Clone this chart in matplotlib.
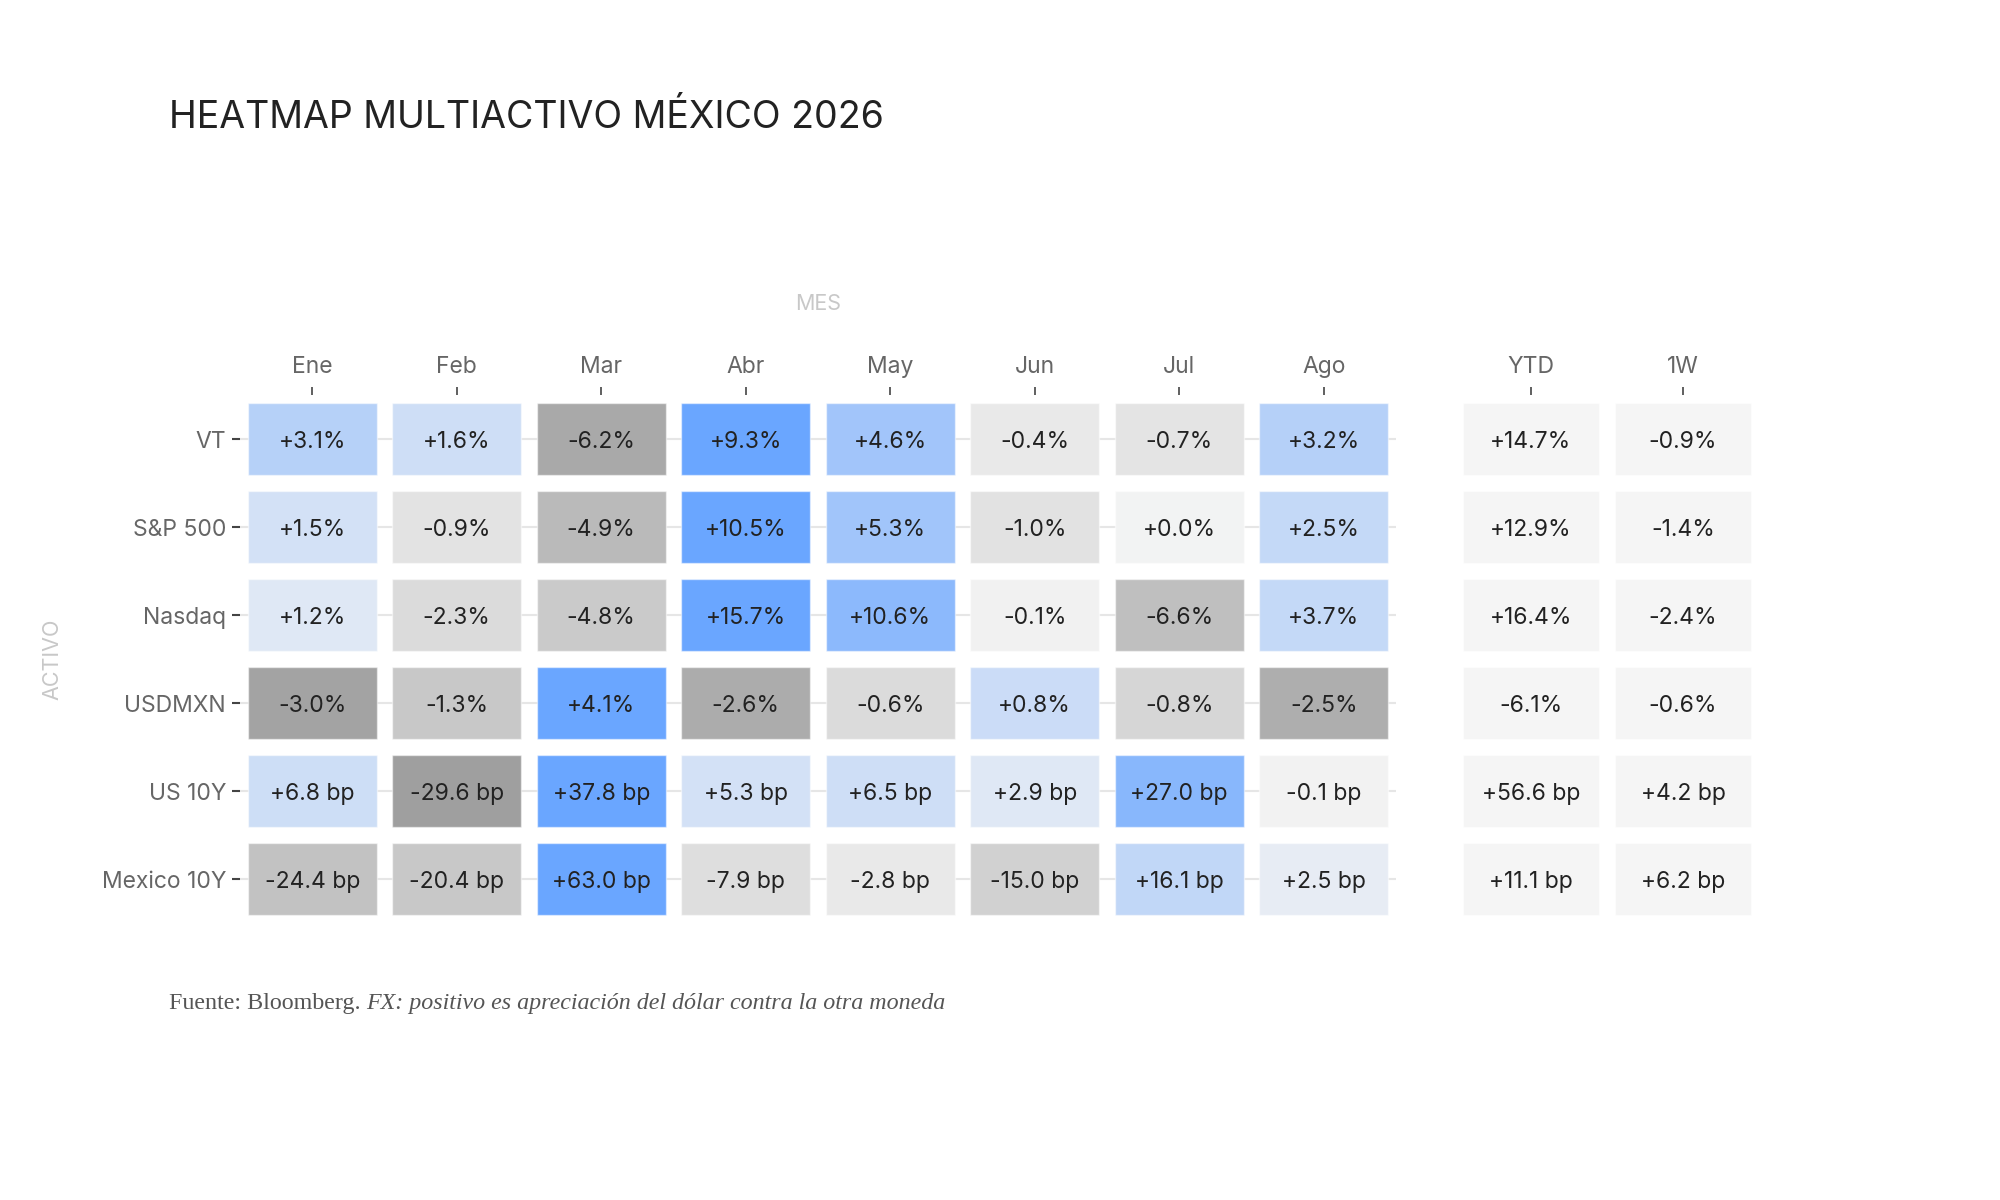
import matplotlib

matplotlib.use("Agg")
import matplotlib.pyplot as plt
import numpy as np
from matplotlib.colors import LinearSegmentedColormap

ASSETS = ["VT", "S&P 500", "Nasdaq", "USDMXN", "US 10Y", "Mexico 10Y"]
MONTHS = ["Ene", "Feb", "Mar", "Abr", "May", "Jun", "Jul", "Ago"]
SUMMARY_COLS = ["YTD", "1W"]
UNITS = ["%", "%", "%", "%", " bp", " bp"]

VT = [3.1, 1.6, -6.2, 9.3, 4.6, -0.4, -0.7, 3.2]
SP500 = [1.5, -0.9, -4.9, 10.5, 5.3, -1.0, 0.0, 2.5]
NASDAQ = [1.2, -2.3, -4.8, 15.7, 10.6, -0.1, -6.6, 3.7]
USDMXN = [-3.0, -1.3, 4.1, -2.6, -0.6, 0.8, -0.8, -2.5]
US10Y = [6.8, -29.6, 37.8, 5.3, 6.5, 2.9, 27.0, -0.1]
MX10Y = [-24.4, -20.4, 63.0, -7.9, -2.8, -15.0, 16.1, 2.5]

YTD = [14.7, 12.9, 16.4, -6.1, 56.6, 11.1]
ONE_WEEK = [-0.9, -1.4, -2.4, -0.6, 4.2, 6.2]

FONT = ["Inter", "DejaVu Sans"]
TEXT_DARK = "#222222"
TICK_GREY = "#666666"
AXIS_TITLE_GREY = "#c8c8c8"
GRID_GREY = "#e6e6e6"
SUMMARY_FILL = "#f5f5f5"

CELL_W = 0.893
CELL_H = 0.82
GAMMA = 0.75
CELL_FS = 16.5
TICK_FS = 16.5

cmap = LinearSegmentedColormap.from_list(
    "grey_blue", [(0.0, "#8f8f8f"), (0.5, "#f3f3f3"), (1.0, "#6aa6ff")]
)


def fmt(v, unit):
    return f"{v:+.1f}{unit}"


def style_axis(ax, col_labels):
    ax.set_ylim(len(ASSETS) - 0.5, -0.5)
    ax.set_xlim(-0.5, len(col_labels) - 0.5)
    ax.xaxis.tick_top()
    ax.set_xticks(np.arange(len(col_labels)))
    ax.set_xticklabels(col_labels, fontsize=TICK_FS, color=TICK_GREY, family=FONT)
    ax.tick_params(axis="x", length=6, width=1.2, color="#444444", pad=6)
    for s in ax.spines.values():
        s.set_visible(False)


plt.rcParams["font.family"] = FONT
fig = plt.figure(figsize=(20, 12), dpi=100)
ax = fig.add_axes([0.12, 0.2308, 0.578, 0.44])
ax2 = fig.add_axes([0.7275, 0.2308, 0.152, 0.44])

rows = [VT, SP500, NASDAQ, USDMXN, US10Y, MX10Y]
x = np.arange(len(MONTHS))
for i, (vals, unit) in enumerate(zip(rows, UNITS)):
    vals = np.array(vals)
    scale = np.abs(vals).max()
    t = np.sign(vals) * (np.abs(vals) / scale) ** GAMMA
    colors = cmap((t + 1) / 2)
    ax.axhline(i, color=GRID_GREY, lw=1.5, zorder=0)
    ax.bar(x, CELL_H, bottom=i - CELL_H / 2, width=CELL_W, color=colors,
           edgecolor=(1, 1, 1, 0.5), linewidth=1, zorder=2)
    for xi, v in zip(x, vals):
        ax.text(xi, i, fmt(v, unit), ha="center", va="center_baseline",
                fontsize=CELL_FS, color=TEXT_DARK, zorder=3)

style_axis(ax, MONTHS)
ax.set_yticks(np.arange(len(ASSETS)))
ax.set_yticklabels(ASSETS, fontsize=TICK_FS, color=TICK_GREY)
ax.tick_params(axis="y", length=6, width=1.5, color="#444444", pad=4)

x2 = np.arange(len(SUMMARY_COLS))
for i, (a, b, unit) in enumerate(zip(YTD, ONE_WEEK, UNITS)):
    ax2.bar(x2, CELL_H, bottom=i - CELL_H / 2, width=CELL_W, color=SUMMARY_FILL,
            edgecolor=(1, 1, 1, 0.5), linewidth=1, zorder=2)
    for xi, v in zip(x2, (a, b)):
        ax2.text(xi, i, fmt(v, unit), ha="center", va="center_baseline",
                 fontsize=CELL_FS, color=TEXT_DARK, zorder=3)
style_axis(ax2, SUMMARY_COLS)
ax2.set_yticks([])

fig.text(0.0845, 0.902, "HEATMAP MULTIACTIVO MÉXICO 2026", fontsize=27,
         color="#222222", ha="left", va="center")
fig.text(0.12 + 0.578 / 2, 0.747, "MES", fontsize=15.5, color=AXIS_TITLE_GREY,
         ha="center", va="center")
fig.text(0.026, 0.4508, "ACTIVO", fontsize=15.5, color=AXIS_TITLE_GREY,
         ha="center", va="center", rotation=90)

src = fig.text(0.0845, 0.159, "Fuente: Bloomberg. ", fontsize=17.3,
               color="#555555", family="Liberation Serif", ha="left", va="baseline")
ax.annotate("FX: positivo es apreciación del dólar contra la otra moneda",
            xy=(1, 0), xycoords=src, fontsize=17.3, color="#555555",
            family="Liberation Serif", style="italic", ha="left", va="bottom")

fig.savefig("out.png", dpi=100, facecolor="white")
